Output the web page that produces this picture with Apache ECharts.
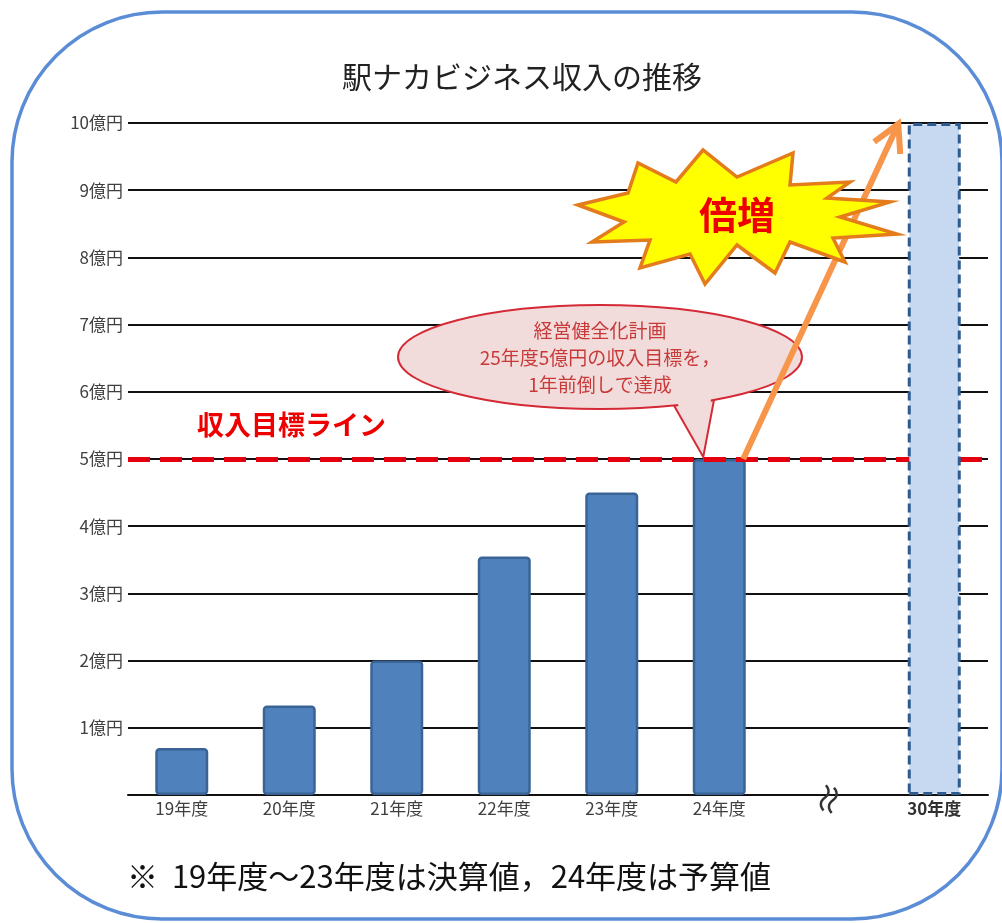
<!DOCTYPE html>
<html>
<head>
<meta charset="utf-8">
<title>駅ナカビジネス収入の推移</title>
<script src="https://cdn.jsdelivr.net/npm/echarts@6/dist/echarts.min.js"></script>
<style>
  html, body { margin: 0; padding: 0; background: #ffffff; }
  #chart { width: 1002px; height: 923px; }
</style>
</head>
<body>
<div id="chart"></div>
<script>
// Fiscal years on the category axis; the empty slot is the break before 30年度
const categories = ['19年度', '20年度', '21年度', '22年度', '23年度', '24年度', '', '30年度'];
// Results (19-23) and budget (24), in 億円
const actualValues = [0.7, 1.33, 2.0, 3.55, 4.5, 5.0, null, null];
// Target for 30年度, in 億円
const targetValues = [null, null, null, null, null, null, null, 10];
// Revenue target line, in 億円
const targetLine = 5;
const yMin = 0, yMax = 10, yStep = 1;

const titleText = '駅ナカビジネス収入の推移';
const targetLabel = '収入目標ライン';
const calloutLines = ['経営健全化計画', '25年度5億円の収入目標を，', '1年前倒しで達成'];
const burstText = '倍増';
const footnote = '※  19年度～23年度は決算値，24年度は予算値';

const FONT = '"Noto Sans CJK JP", "Noto Sans", sans-serif';

const chart = echarts.init(document.getElementById('chart'), null, { renderer: 'canvas' });

chart.setOption({
  animation: false,
  backgroundColor: '#ffffff',
  textStyle: { fontFamily: FONT },
  grid: { left: 128, right: 14, top: 123, bottom: 128, containLabel: false },
  xAxis: {
    type: 'category',
    data: categories,
    boundaryGap: true,
    axisLine: { show: true, lineStyle: { color: '#111111', width: 2 } },
    axisTick: { show: false },
    axisLabel: {
      color: '#404040',
      fontSize: 17,
      fontFamily: FONT,
      margin: 5,
      formatter: v => v === '30年度' ? '{b|' + v + '}' : v,
      rich: { b: { fontWeight: 'bold', fontSize: 17, color: '#303030', fontFamily: FONT } }
    },
    splitLine: { show: false }
  },
  yAxis: {
    type: 'value',
    min: yMin,
    max: yMax,
    interval: yStep,
    axisLine: { show: false },
    axisTick: { show: false },
    axisLabel: {
      color: '#404040',
      fontSize: 17,
      fontFamily: FONT,
      margin: 5,
      formatter: v => v === 0 ? '' : v + '億円'
    },
    splitLine: { show: true, lineStyle: { color: '#111111', width: 2 } }
  },
  series: [
    {
      name: '収入',
      type: 'bar',
      data: actualValues,
      barWidth: 53,
      barGap: '-100%',
      z: 2,
      itemStyle: {
        color: '#4f81bd',
        borderColor: '#3b6496',
        borderWidth: 2.5,
        borderRadius: 3
      },
      markLine: {
        silent: true,
        symbol: ['none', 'none'],
        label: { show: false },
        lineStyle: { color: '#e5000f', width: 5, type: [22, 10] },
        data: [{ yAxis: targetLine }]
      }
    },
    {
      name: '目標',
      type: 'bar',
      data: targetValues,
      barWidth: 53,
      barGap: '-100%',
      z: 5,
      itemStyle: {
        color: '#c6d9f1',
        borderColor: '#2e5a8e',
        borderWidth: 3,
        borderType: [9, 5]
      }
    }
  ]
});

// Annotation layer, positioned from the axes' own scales where it refers to data
const px = (i, v) => chart.convertToPixel({ xAxisIndex: 0, yAxisIndex: 0 }, [i, v]);

const bar24Top = px(5, actualValues[5]);
const bar30Top = px(7, targetValues[7]);
const breakPos = px(6, 0);

// Growth arrow from the 24年度 bar to the 30年度 bar
const aStart = [bar24Top[0] + 24, bar24Top[1]];
const aEnd = [bar30Top[0] - 36, bar30Top[1] + 1];
const dx = aEnd[0] - aStart[0], dy = aEnd[1] - aStart[1];
const len = Math.hypot(dx, dy);
const ux = dx / len, uy = dy / len;
const headLen = 30, headAng = 0.5;
const rot = (x, y, a) => [x * Math.cos(a) - y * Math.sin(a), x * Math.sin(a) + y * Math.cos(a)];
const h1 = rot(-ux, -uy, headAng), h2 = rot(-ux, -uy, -headAng);
const headPts = [
  [aEnd[0] + h1[0] * headLen, aEnd[1] + h1[1] * headLen],
  [aEnd[0], aEnd[1]],
  [aEnd[0] + h2[0] * headLen, aEnd[1] + h2[1] * headLen]
];

// Speech bubble: ellipse with a tail pointing at the 24年度 bar
const cx = 600, cy = 357, rx = 202, ry = 52;
const ey = x => cy + ry * Math.sqrt(Math.max(0, 1 - Math.pow((x - cx) / rx, 2)));
const tA = [674, ey(674)], tB = [714, ey(714)];
const tip = [bar24Top[0] - 16, bar24Top[1] - 2];
const lerp = (p, q, t) => [p[0] + (q[0] - p[0]) * t, p[1] + (q[1] - p[1]) * t];
const a2 = lerp(tA, tip, 0.2), b2 = lerp(tB, tip, 0.2);
// fill-only patch hiding the ellipse outline where the tail joins it
const seamCover = [
  [tA[0] + 2.5, tA[1] - 5], [tB[0] - 2.5, tB[1] - 5],
  [b2[0] - 2.5, b2[1]], [a2[0] + 2.5, a2[1]]
];

// Starburst outline
const burst = [
  [578, 205], [628, 193], [638, 163], [676, 182], [703, 150], [737, 177],
  [793, 153], [790, 185], [850, 182], [827, 198], [890, 202], [840, 217],
  [897, 234], [833, 238], [845, 262], [790, 242], [775, 273], [737, 245],
  [705, 284], [690, 254], [640, 268], [650, 240], [592, 242], [624, 222]
];

chart.setOption({
  graphic: [
    // rounded frame
    {
      type: 'rect', silent: true, z: 0,
      shape: { x: 12, y: 12, width: 990, height: 907, r: 150 },
      style: { fill: 'none', stroke: '#5b8dd6', lineWidth: 3.5 }
    },
    // title
    {
      type: 'text', z: 10, x: 522, y: 77,
      style: {
        text: titleText, font: '30px ' + FONT, fill: '#222222',
        align: 'center', verticalAlign: 'middle'
      }
    },
    // target line label
    {
      type: 'text', z: 10, x: 197, y: 425,
      style: {
        text: targetLabel, font: 'bold 27px ' + FONT, fill: '#ee0000',
        verticalAlign: 'middle'
      }
    },
    // speech bubble: tail, body, seam patch
    {
      type: 'polygon', z: 22, silent: true,
      shape: { points: [tA, tip, tB] },
      style: { fill: '#f2dcdb', stroke: '#d42a36', lineWidth: 2 }
    },
    {
      type: 'ellipse', z: 23, silent: true,
      shape: { cx: cx, cy: cy, rx: rx, ry: ry },
      style: { fill: '#f2dcdb', stroke: '#d42a36', lineWidth: 2 }
    },
    {
      type: 'polygon', z: 24, silent: true,
      shape: { points: seamCover },
      style: { fill: '#f2dcdb' }
    },
    {
      type: 'text', z: 25, x: cx, y: cy + 1,
      style: {
        text: calloutLines.join('\n'), font: '19px ' + FONT, fill: '#c83a3a',
        align: 'center', verticalAlign: 'middle', lineHeight: 27
      }
    },
    // growth arrow
    {
      type: 'line', z: 26, silent: true,
      shape: { x1: aStart[0], y1: aStart[1], x2: aEnd[0] - ux * 3, y2: aEnd[1] - uy * 3 },
      style: { stroke: '#f7964a', lineWidth: 6 }
    },
    {
      type: 'polyline', z: 26, silent: true,
      shape: { points: headPts },
      style: { stroke: '#f7964a', lineWidth: 6, fill: 'none', lineJoin: 'miter' }
    },
    // starburst
    {
      type: 'polygon', z: 27, silent: true,
      shape: { points: burst },
      style: { fill: '#ffff00', stroke: '#e47c1c', lineWidth: 3.5, lineJoin: 'miter' }
    },
    {
      type: 'text', z: 28, x: 737, y: 215,
      style: {
        text: burstText, font: 'bold 38px ' + FONT, fill: '#ee0000',
        align: 'center', verticalAlign: 'middle'
      }
    },
    // axis break mark
    {
      type: 'text', z: 10, x: breakPos[0] + 2, y: breakPos[1] + 4,
      rotation: Math.PI / 2 - 0.3,
      style: {
        text: '≈', font: '36px ' + FONT, fill: '#333333',
        align: 'center', verticalAlign: 'middle'
      }
    },
    // footnote
    {
      type: 'text', z: 10, x: 127, y: 876,
      style: {
        text: footnote, font: '31px ' + FONT, fill: '#111111',
        verticalAlign: 'middle'
      }
    }
  ]
});
</script>
</body>
</html>
